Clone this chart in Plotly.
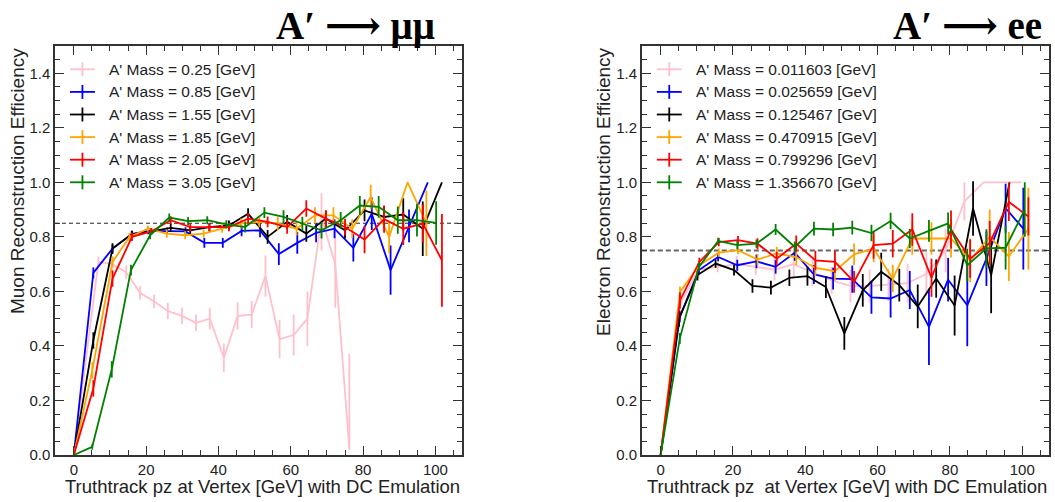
import plotly.graph_objects as go

# ---------------- data: A' -> mu mu (left panel) ----------------
mu_labels = ["A' Mass = 0.25 [GeV]", "A' Mass = 0.85 [GeV]", "A' Mass = 1.55 [GeV]",
             "A' Mass = 1.85 [GeV]", "A' Mass = 2.05 [GeV]", "A' Mass = 3.05 [GeV]"]

mu_pink_x = [0, 6.8, 10.6, 14.5, 18.3, 22.2, 26.0, 29.9, 33.8, 37.6, 41.5, 45.3, 49.2, 53.0, 56.9, 60.8, 64.6, 68.5, 72.3, 76.2]
mu_pink_y = [0, 0.708, 0.70, 0.67, 0.595, 0.563, 0.528, 0.51, 0.485, 0.50, 0.357, 0.51, 0.515, 0.656, 0.425, 0.44, 0.50, 0.87, 0.70, 0.02]
mu_pink_eu = [0, 0.02, 0.02, 0.025, 0.025, 0.025, 0.03, 0.03, 0.03, 0.04, 0.052, 0.05, 0.05, 0.076, 0.07, 0.075, 0.10, 0.09, 0.16, 0.35]
mu_pink_ed = [0, 0.02, 0.02, 0.025, 0.025, 0.025, 0.03, 0.03, 0.03, 0.04, 0.052, 0.05, 0.05, 0.076, 0.07, 0.075, 0.10, 0.12, 0.16, 0.0]

mu_blue_x = [0, 5.4, 10.7, 16.0, 20.6, 25.8, 30.9, 36.1, 41.2, 46.4, 51.5, 56.7, 61.8, 67.0, 72.1, 77.3, 82.4, 87.6, 92.7, 97.9]
mu_blue_y = [0, 0.668, 0.757, 0.81, 0.822, 0.822, 0.82, 0.778, 0.778, 0.822, 0.824, 0.737, 0.778, 0.815, 0.83, 0.76, 0.885, 0.678, 0.84, 1.0]
mu_blue_e = [0, 0.02, 0.015, 0.012, 0.012, 0.012, 0.015, 0.018, 0.018, 0.02, 0.025, 0.04, 0.04, 0.035, 0.035, 0.05, 0.06, 0.09, 0.06, 0.0]

mu_black_x = [0, 5.4, 10.7, 16.1, 21.4, 26.8, 32.2, 37.5, 42.9, 48.2, 53.6, 59.0, 64.3, 69.7, 75.0, 80.4, 85.8, 91.1, 96.5, 101.8]
mu_black_y = [0, 0.42, 0.757, 0.81, 0.82, 0.833, 0.824, 0.836, 0.842, 0.885, 0.80, 0.855, 0.812, 0.867, 0.824, 0.897, 0.873, 0.882, 0.83, 1.0]
mu_black_e = [0, 0.03, 0.02, 0.012, 0.012, 0.015, 0.015, 0.015, 0.018, 0.02, 0.025, 0.025, 0.03, 0.03, 0.03, 0.04, 0.04, 0.06, 0.1, 0.0]

mu_orange_x = [0, 5.1, 10.7, 15.4, 20.5, 25.7, 30.8, 35.9, 41.0, 46.2, 51.3, 56.4, 61.6, 66.7, 71.8, 77.0, 82.1, 87.2, 92.3, 97.5]
mu_orange_y = [0, 0.31, 0.708, 0.80, 0.83, 0.812, 0.806, 0.812, 0.83, 0.849, 0.855, 0.849, 0.83, 0.879, 0.879, 0.83, 0.946, 0.80, 1.0, 0.85]
mu_orange_e = [0, 0.03, 0.02, 0.015, 0.012, 0.015, 0.015, 0.015, 0.015, 0.018, 0.02, 0.025, 0.025, 0.03, 0.03, 0.035, 0.045, 0.06, 0.0, 0.12]

mu_red_x = [0, 5.4, 10.7, 16.1, 21.4, 26.8, 32.2, 37.5, 42.9, 48.2, 53.6, 59.0, 64.3, 69.7, 75.0, 80.4, 85.8, 91.1, 96.5, 101.8]
mu_red_y = [0, 0.244, 0.647, 0.80, 0.82, 0.861, 0.836, 0.836, 0.836, 0.867, 0.855, 0.836, 0.904, 0.867, 0.836, 0.79, 0.865, 0.83, 0.849, 0.714]
mu_red_e = [0, 0.03, 0.03, 0.015, 0.012, 0.015, 0.015, 0.015, 0.015, 0.02, 0.02, 0.025, 0.03, 0.03, 0.03, 0.05, 0.05, 0.06, 0.07, 0.17]

mu_green_x = [0, 5.1, 10.5, 15.8, 21.1, 26.4, 31.6, 36.9, 42.2, 47.4, 52.7, 58.0, 63.2, 68.5, 73.8, 79.1, 84.3, 89.6, 94.9, 100.2]
mu_green_y = [0, 0.03, 0.314, 0.678, 0.806, 0.871, 0.858, 0.861, 0.846, 0.836, 0.889, 0.873, 0.849, 0.824, 0.861, 0.915, 0.91, 0.861, 0.861, 0.851]
mu_green_e = [0, 0.01, 0.03, 0.02, 0.015, 0.015, 0.015, 0.015, 0.015, 0.02, 0.02, 0.025, 0.025, 0.03, 0.03, 0.035, 0.04, 0.05, 0.06, 0.08]

# ---------------- data: A' -> e e (right panel) ----------------
ee_labels = ["A' Mass = 0.011603 [GeV]", "A' Mass = 0.025659 [GeV]", "A' Mass = 0.125467 [GeV]",
             "A' Mass = 0.470915 [GeV]", "A' Mass = 0.799296 [GeV]", "A' Mass = 1.356670 [GeV]"]

ee_pink_x = [0, 5.25, 10.5, 15.8, 21.0, 26.3, 31.5, 36.8, 42.0, 47.3, 52.5, 57.8, 63.0, 68.3, 73.5, 78.8, 84.0, 89.3, 94.5, 99.8]
ee_pink_y = [0, 0.55, 0.68, 0.69, 0.70, 0.69, 0.68, 0.70, 0.67, 0.64, 0.62, 0.62, 0.625, 0.63, 0.665, 0.75, 0.93, 1.0, 1.0, 1.0]
ee_pink_e = [0, 0.03, 0.03, 0.02, 0.03, 0.03, 0.04, 0.05, 0.05, 0.05, 0.06, 0.06, 0.06, 0.07, 0.08, 0.08, 0.07, 0.0, 0.0, 0.0]

ee_blue_x = [0, 5.3, 10.6, 15.9, 21.2, 26.5, 31.8, 37.1, 42.4, 47.7, 53.0, 58.3, 63.6, 68.9, 74.2, 79.5, 84.8, 90.1, 95.4, 100.3]
ee_blue_y = [0, 0.507, 0.678, 0.726, 0.696, 0.71, 0.69, 0.742, 0.662, 0.647, 0.645, 0.578, 0.574, 0.605, 0.47, 0.643, 0.549, 0.72, 0.905, 0.83]
ee_blue_e = [0, 0.02, 0.015, 0.015, 0.02, 0.025, 0.025, 0.03, 0.035, 0.04, 0.05, 0.06, 0.07, 0.07, 0.14, 0.08, 0.15, 0.1, 0.09, 0.15]

ee_black_x = [0, 5.1, 10.2, 15.2, 20.3, 25.4, 30.5, 35.6, 40.6, 45.7, 50.8, 55.9, 61.0, 66.0, 71.1, 76.2, 81.3, 86.4, 91.4, 96.5]
ee_black_y = [0, 0.50, 0.66, 0.702, 0.678, 0.62, 0.614, 0.65, 0.656, 0.616, 0.446, 0.604, 0.672, 0.623, 0.545, 0.647, 0.548, 0.904, 0.66, 1.0]
ee_black_e = [0, 0.03, 0.02, 0.015, 0.02, 0.025, 0.025, 0.03, 0.035, 0.04, 0.06, 0.06, 0.07, 0.06, 0.08, 0.07, 0.11, 0.1, 0.14, 0.0]

ee_orange_x = [0, 5.35, 10.7, 16.1, 21.4, 26.8, 32.1, 37.5, 42.8, 48.2, 53.5, 58.9, 64.2, 69.6, 74.9, 80.3, 85.6, 91.0, 96.3, 101.7]
ee_orange_y = [0, 0.598, 0.696, 0.742, 0.751, 0.717, 0.739, 0.726, 0.686, 0.674, 0.736, 0.757, 0.647, 0.794, 0.794, 0.794, 0.714, 0.80, 0.728, 0.83]
ee_orange_e = [0, 0.02, 0.015, 0.015, 0.015, 0.02, 0.025, 0.03, 0.03, 0.035, 0.04, 0.05, 0.05, 0.06, 0.06, 0.07, 0.08, 0.1, 0.09, 0.15]

ee_red_x = [0, 5.35, 10.7, 16.1, 21.4, 26.8, 32.1, 37.5, 42.8, 48.2, 53.5, 58.9, 64.2, 69.6, 74.9, 80.3, 85.6, 91.0, 96.3, 101.7]
ee_red_y = [0, 0.567, 0.708, 0.781, 0.788, 0.775, 0.72, 0.775, 0.714, 0.708, 0.635, 0.77, 0.775, 0.827, 0.65, 0.827, 0.72, 0.778, 0.928, 0.875]
ee_red_e = [0, 0.03, 0.015, 0.015, 0.015, 0.02, 0.025, 0.03, 0.035, 0.04, 0.04, 0.05, 0.05, 0.06, 0.07, 0.07, 0.07, 0.08, 0.07, 0.07]

ee_green_x = [0, 5.3, 10.6, 15.9, 21.2, 26.5, 31.8, 37.1, 42.4, 47.7, 53.0, 58.3, 63.6, 68.9, 74.2, 79.5, 84.8, 90.1, 95.4, 100.7]
ee_green_y = [0, 0.427, 0.69, 0.785, 0.77, 0.775, 0.827, 0.763, 0.83, 0.827, 0.834, 0.814, 0.858, 0.794, 0.822, 0.849, 0.696, 0.758, 0.76, 0.9]
ee_green_e = [0, 0.02, 0.015, 0.012, 0.015, 0.015, 0.02, 0.02, 0.025, 0.025, 0.025, 0.03, 0.03, 0.035, 0.04, 0.04, 0.06, 0.07, 0.08, 0.1]

mu_threshold = 0.85
ee_threshold = 0.75

x_ticks = [0, 20, 40, 60, 80, 100]
y_ticks = [0.0, 0.2, 0.4, 0.6, 0.8, 1.0, 1.2, 1.4]

colors = ["pink", "blue", "black", "orange", "red", "green"]

# ---------------- layout geometry ----------------
W, H = 1055, 502
ML, MR, MT, MB = 55, 4, 46, 47
PW = W - ML - MR
PH = H - MT - MB


def paper(px, py):
    return (px - ML) / PW, (H - MB - py) / PH


fig = go.Figure()

mu_series = [
    (mu_pink_x, mu_pink_y, mu_pink_eu, mu_pink_ed),
    (mu_blue_x, mu_blue_y, mu_blue_e, mu_blue_e),
    (mu_black_x, mu_black_y, mu_black_e, mu_black_e),
    (mu_orange_x, mu_orange_y, mu_orange_e, mu_orange_e),
    (mu_red_x, mu_red_y, mu_red_e, mu_red_e),
    (mu_green_x, mu_green_y, mu_green_e, mu_green_e),
]
ee_series = [
    (ee_pink_x, ee_pink_y, ee_pink_e, ee_pink_e),
    (ee_blue_x, ee_blue_y, ee_blue_e, ee_blue_e),
    (ee_black_x, ee_black_y, ee_black_e, ee_black_e),
    (ee_orange_x, ee_orange_y, ee_orange_e, ee_orange_e),
    (ee_red_x, ee_red_y, ee_red_e, ee_red_e),
    (ee_green_x, ee_green_y, ee_green_e, ee_green_e),
]

for (series, labels, xa, ya) in [(mu_series, mu_labels, "x", "y"), (ee_series, ee_labels, "x2", "y2")]:
    for (sx, sy, eu, ed), lab, col in zip(series, labels, colors):
        fig.add_trace(go.Scatter(
            x=sx, y=sy, name=lab, mode="lines",
            line=dict(color=col, width=1.8),
            error_y=dict(type="data", symmetric=False, array=eu, arrayminus=ed,
                         visible=True, thickness=1.8, width=0, color=col),
            showlegend=False, xaxis=xa, yaxis=ya, cliponaxis=True,
        ))

axis_common = dict(
    showline=True, linecolor="#333", linewidth=1.5, mirror="allticks",
    ticks="inside", ticklen=9, tickwidth=1, tickcolor="#333",
    showgrid=False, zeroline=False,
    tickfont=dict(family="Liberation Sans", size=15, color="#222"),
)
xaxis_common = dict(axis_common, range=[-5.2, 107.4], tickvals=x_ticks,
                    minor=dict(dtick=5, tick0=0, ticks="inside", ticklen=5, tickcolor="#333", showgrid=False))
yaxis_common = dict(axis_common, range=[0, 1.5], tickvals=y_ticks, tickformat=".1f",
                    minor=dict(dtick=0.05, tick0=0, ticks="inside", ticklen=5, tickcolor="#333", showgrid=False))

left_dom = [0, 408 / PW]
right_dom = [(643 - ML) / PW, 1]

fig.update_layout(
    width=W, height=H,
    margin=dict(l=ML, r=MR, t=MT, b=MB),
    paper_bgcolor="white", plot_bgcolor="white",
    showlegend=False,
    xaxis=dict(xaxis_common, domain=left_dom, anchor="y"),
    yaxis=dict(yaxis_common, domain=[0, 1], anchor="x"),
    xaxis2=dict(xaxis_common, domain=right_dom, anchor="y2"),
    yaxis2=dict(yaxis_common, domain=[0, 1], anchor="x2"),
)

# threshold dashed lines
for thr, xr, yr, col, wd, dash in [(mu_threshold, "x domain", "y", "#222", 1, "4px,3px"),
                                   (ee_threshold, "x2 domain", "y2", "#666", 2, "5px,3px")]:
    fig.add_shape(type="line", xref=xr, yref=yr, x0=0, x1=1, y0=thr, y1=thr,
                  line=dict(color=col, width=wd, dash=dash), layer="below")

annotations = []
shapes = []

# custom ROOT-style legends
row_y = [69.3, 91.9, 114.5, 137.1, 159.7, 182.3]
for labels, gx, tx in [(mu_labels, 82.5, 107), (ee_labels, 670.5, 695)]:
    for lab, col, ry in zip(labels, colors, row_y):
        x0, y0 = paper(gx - 12.5, ry)
        x1, _ = paper(gx + 12.5, ry)
        xc, yt = paper(gx, ry - 7)
        _, yb = paper(gx, ry + 7)
        shapes.append(dict(type="line", xref="paper", yref="paper", x0=x0, x1=x1, y0=y0, y1=y0,
                           line=dict(color=col, width=1.8)))
        shapes.append(dict(type="line", xref="paper", yref="paper", x0=xc, x1=xc, y0=yb, y1=yt,
                           line=dict(color=col, width=1.8)))
        ax, ay = paper(tx, ry)
        annotations.append(dict(text=lab, xref="paper", yref="paper", x=ax, y=ay,
                                xanchor="left", yanchor="middle", showarrow=False,
                                font=dict(family="Liberation Sans", size=15.5, color="#222")))

# axis titles (ROOT style: right / top aligned)
for txt, px in [("Truthtrack pz at Vertex [GeV] with DC Emulation", 463),
                ("Truthtrack pz  at Vertex [GeV] with DC Emulation", 1051)]:
    ax, ay = paper(px, 487)
    annotations.append(dict(text=txt.replace("  ", "&nbsp; "), xref="paper", yref="paper", x=ax, y=ay,
                            xanchor="right", yanchor="middle", showarrow=False,
                            font=dict(family="Liberation Sans", size=18.5, color="#222")))
for txt, px in [("Muon Reconstruction Efficiency", 17), ("Electron Reconstruction Efficiency", 604)]:
    ax, ay = paper(px, 46)
    annotations.append(dict(text=txt, xref="paper", yref="paper", x=ax, y=ay, textangle=-90,
                            xanchor="center", yanchor="top", showarrow=False,
                            font=dict(family="Liberation Sans", size=19, color="#222")))

# panel titles
for lhs, rhs, px in [("A′", "μμ", 438), ("A′", "ee", 1046)]:
    ax, ay = paper(px, 25)
    txt = "<b>" + lhs + " <span style='font-family:DejaVu Serif'>⟶</span> " + rhs + "</b>"
    annotations.append(dict(text=txt, xref="paper", yref="paper", x=ax, y=ay,
                            xanchor="right", yanchor="middle", showarrow=False,
                            font=dict(family="Liberation Serif", size=39, color="black")))

fig.update_layout(annotations=annotations, shapes=list(fig.layout.shapes) + shapes)

fig.write_html("out.html", config={"displayModeBar": False},
               post_script="document.body.style.margin='0';document.body.style.overflow='hidden';")
